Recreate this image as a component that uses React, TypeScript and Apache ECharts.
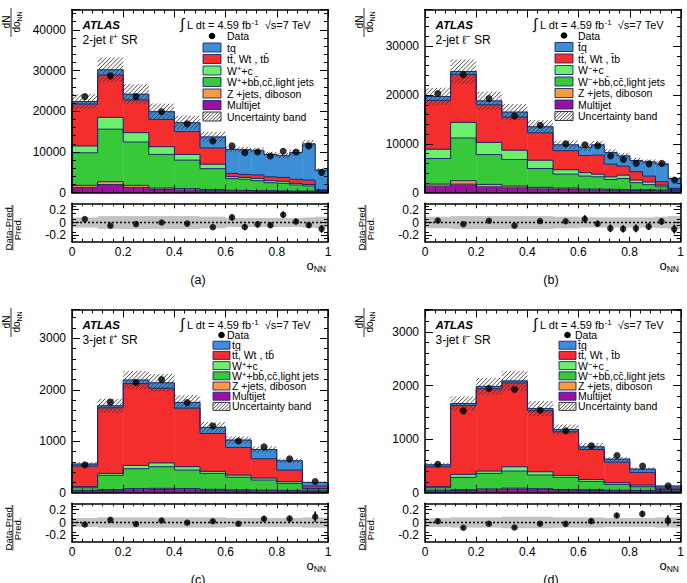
import React, { useEffect, useRef } from "react";
import * as echarts from "echarts";

// Bin edges of the neural-network output o_NN
const EDGES_2JET = [0, 0.1, 0.2, 0.3, 0.4, 0.5, 0.6, 0.65, 0.7, 0.75, 0.8, 0.85, 0.9, 0.95, 1];
const EDGES_3JET = [0, 0.1, 0.2, 0.3, 0.4, 0.5, 0.6, 0.7, 0.8, 0.9, 1];

// (a) 2-jet l+ SR: predicted yields per process
const A_MULTIJET = [1300, 2000, 1300, 800, 650, 500, 400, 400, 350, 350, 300, 300, 300, 250];
const A_ZJETS = [500, 700, 500, 350, 350, 250, 200, 150, 150, 150, 150, 100, 100, 50];
const A_WBB = [8000, 12900, 10650, 8250, 7000, 5150, 2850, 2750, 2450, 1950, 1850, 1500, 1250, 150];
const A_WC = [1700, 2900, 2300, 1900, 1400, 1100, 500, 450, 550, 500, 500, 400, 350, 100];
const A_TOP = [10300, 10400, 8050, 6700, 5600, 4000, 800, 750, 850, 950, 950, 1000, 1100, 150];
const A_TQ = [600, 1300, 1400, 1900, 2200, 2700, 5900, 6050, 5950, 5500, 5350, 6550, 8900, 4850];
const A_DATA = [23600, 28700, 23600, 19900, 16900, 12700, 11500, 9800, 10000, 9000, 10200, 10000, 11500, 5000];
const A_UNC = [0.08, 0.1, 0.1, 0.1, 0.1, 0.09, 0.07, 0.07, 0.07, 0.07, 0.07, 0.07, 0.08, 0.09];
const A_RATIO_ERR = [0.012, 0.012, 0.012, 0.012, 0.014, 0.016, 0.05, 0.05, 0.05, 0.045, 0.05, 0.045, 0.04, 0.06];

// (b) 2-jet l- SR
const B_MULTIJET = [1360, 1770, 1200, 1000, 800, 700, 550, 550, 500, 500, 450, 450, 400, 300];
const B_ZJETS = [410, 680, 500, 360, 300, 250, 200, 200, 200, 150, 150, 150, 150, 100];
const B_WBB = [5230, 8750, 6100, 5440, 3850, 2850, 2650, 2500, 2000, 2250, 1450, 1050, 650, 150];
const B_WC = [1900, 3200, 2500, 1900, 1700, 900, 700, 550, 550, 700, 550, 550, 350, 150];
const B_TOP = [10000, 9800, 7700, 6800, 5600, 3900, 3500, 3900, 2600, 1850, 1700, 1200, 700, 200];
const B_TQ = [800, 600, 800, 1000, 1250, 1200, 1700, 2100, 2400, 2100, 2300, 2900, 3650, 2000];
const B_DATA = [20300, 24150, 19300, 15700, 13800, 10000, 9800, 9600, 7500, 6800, 6000, 5900, 6000, 2600];
const B_UNC = [0.09, 0.1, 0.1, 0.1, 0.1, 0.09, 0.08, 0.08, 0.08, 0.08, 0.08, 0.08, 0.09, 0.1];
const B_RATIO_ERR = [0.012, 0.012, 0.012, 0.014, 0.016, 0.018, 0.06, 0.05, 0.06, 0.055, 0.06, 0.05, 0.05, 0.07];

// (c) 3-jet l+ SR
const C_MULTIJET = [35, 40, 55, 60, 55, 45, 40, 35, 30, 25];
const C_ZJETS = [10, 20, 25, 25, 25, 20, 15, 15, 15, 10];
const C_WBB = [52, 277, 386, 420, 360, 310, 245, 196, 136, 36];
const C_WC = [20, 38, 64, 75, 65, 40, 43, 39, 33, 13];
const C_TOP = [401, 1275, 1590, 1450, 1140, 735, 537, 375, 226, 46];
const C_TQ = [39, 40, 70, 105, 110, 120, 143, 180, 180, 70];
const C_DATA = [540, 1760, 2140, 2200, 1750, 1295, 1003, 890, 657, 218];
const C_UNC = [0.07, 0.08, 0.08, 0.08, 0.08, 0.08, 0.07, 0.07, 0.07, 0.08];
const C_RATIO_ERR = [0.03, 0.02, 0.02, 0.02, 0.02, 0.025, 0.03, 0.04, 0.05, 0.08];

// (d) 3-jet l- SR
const D_MULTIJET = [35, 40, 50, 65, 55, 45, 40, 35, 30, 20];
const D_ZJETS = [10, 15, 20, 20, 20, 15, 15, 10, 10, 10];
const D_WBB = [48, 231, 290, 319, 254, 226, 156, 110, 72, 20];
const D_WC = [19, 56, 44, 80, 62, 37, 37, 31, 31, 12];
const D_TOP = [372, 1285, 1536, 1566, 1139, 814, 559, 385, 236, 25];
const D_TQ = [38, 38, 45, 37, 40, 43, 50, 56, 62, 37];
const D_DATA = [532, 1528, 1945, 1925, 1540, 1155, 875, 696, 500, 128];
const D_UNC = [0.07, 0.08, 0.08, 0.09, 0.09, 0.08, 0.08, 0.07, 0.07, 0.08];
const D_RATIO_ERR = [0.04, 0.02, 0.02, 0.02, 0.02, 0.025, 0.03, 0.04, 0.05, 0.08];

// Tick labels
const X_TICKS = [0, 0.2, 0.4, 0.6, 0.8, 1];
const RATIO_TICKS = [-0.2, 0, 0.2];
const Y_TICKS_2JET_PLUS = [0, 10000, 20000, 30000, 40000];
const Y_TICKS_2JET_MINUS = [0, 10000, 20000, 30000];
const Y_TICKS_3JET = [0, 1000, 2000, 3000];

// Legend texts
const LEGEND_PLUS = ["tq", "tt\u0304, Wt , tb\u0304", "W{sup|+}+c", "W{sup|+}+bb\u0304,cc\u0304,light jets", "Z +jets, diboson", "Multijet", "Uncertainty band"];
const LEGEND_MINUS = ["t\u0304q", "tt\u0304, Wt , t\u0304b", "W{sup|\u2212}+c", "W{sup|\u2212}+bb\u0304,cc\u0304,light jets", "Z +jets, diboson", "Multijet", "Uncertainty band"];

const FONT = '"Liberation Sans", Arial, Helvetica, sans-serif';
// stack colours, bottom to top: multijet, Z+jets/diboson, W+bb/cc/light, W+c, top pairs, tq
const COLORS = ["#9b119f", "#f99b3c", "#37c937", "#6af06a", "#f42d2d", "#3d8fd5"];
const OUTLINE = "#1d2472";
const HATCH = "#3a3a3a";
const BAND = "#c2c2c2";

interface PanelSpec {
  edges: number[];
  stack: number[][];
  data: number[];
  unc: number[];
  ratioErr: number[];
  yMax: number;
  yStep: number;
  yTicks: number[];
  ox: number;
  oy: number;
  region: string;
  legendTexts: string[];
  tag: string;
  // legend geometry, x measured from the left edge of the frame
  lg: { boxL: number; boxW: number; boxH: number; textX: number; dataTextX: number; rowY: number; rowStep: number };
}

const PANELS: PanelSpec[] = [
  {
    edges: EDGES_2JET, stack: [A_MULTIJET, A_ZJETS, A_WBB, A_WC, A_TOP, A_TQ], data: A_DATA, unc: A_UNC, ratioErr: A_RATIO_ERR,
    yMax: 45000, yStep: 10000, yTicks: Y_TICKS_2JET_PLUS, ox: 0, oy: 0, region: "2-jet \u2113{sup|+} SR", legendTexts: LEGEND_PLUS, tag: "(a)",
    lg: { boxL: 131, boxW: 18, boxH: 9, textX: 155, dataTextX: 155, rowY: 36, rowStep: 11.5 },
  },
  {
    edges: EDGES_2JET, stack: [B_MULTIJET, B_ZJETS, B_WBB, B_WC, B_TOP, B_TQ], data: B_DATA, unc: B_UNC, ratioErr: B_RATIO_ERR,
    yMax: 37500, yStep: 10000, yTicks: Y_TICKS_2JET_MINUS, ox: 353, oy: 0, region: "2-jet \u2113{sup|\u2212} SR", legendTexts: LEGEND_MINUS, tag: "(b)",
    lg: { boxL: 130, boxW: 18, boxH: 9, textX: 153, dataTextX: 153, rowY: 35.5, rowStep: 11.5 },
  },
  {
    edges: EDGES_3JET, stack: [C_MULTIJET, C_ZJETS, C_WBB, C_WC, C_TOP, C_TQ], data: C_DATA, unc: C_UNC, ratioErr: C_RATIO_ERR,
    yMax: 3560, yStep: 1000, yTicks: Y_TICKS_3JET, ox: 0, oy: 300, region: "3-jet \u2113{sup|+} SR", legendTexts: LEGEND_PLUS, tag: "(c)",
    lg: { boxL: 141, boxW: 17, boxH: 8, textX: 160, dataTextX: 155, rowY: 35, rowStep: 10.2 },
  },
  {
    edges: EDGES_3JET, stack: [D_MULTIJET, D_ZJETS, D_WBB, D_WC, D_TOP, D_TQ], data: D_DATA, unc: D_UNC, ratioErr: D_RATIO_ERR,
    yMax: 3420, yStep: 1000, yTicks: Y_TICKS_3JET, ox: 353, oy: 300, region: "3-jet \u2113{sup|\u2212} SR", legendTexts: LEGEND_MINUS, tag: "(d)",
    lg: { boxL: 134, boxW: 17, boxH: 8, textX: 153, dataTextX: 150, rowY: 35, rowStep: 10.2 },
  },
];

// layout of one panel, relative to its origin
const FRAME_L = 72;
const FRAME_W = 256;
const MAIN_T = 9.5;
const MAIN_H = 183.2;
const RATIO_T = 203.3;
const RATIO_H = 38.4;
const GZ = 100;

function hatchLines(left: number, top: number, right: number, bottom: number, step: number, style: any) {
  const out: any[] = [];
  if (right <= left || bottom <= top) return out;
  const c0 = Math.ceil((left + top) / step) * step;
  for (let c = c0; c <= right + bottom; c += step) {
    const xa = Math.max(left, c - bottom);
    const xb = Math.min(right, c - top);
    if (xb - xa > 0.3) out.push({ type: "line", shape: { x1: xa, y1: c - xa, x2: xb, y2: c - xb }, style });
  }
  return out;
}

const axisLine = { show: true, onZero: false, lineStyle: { color: "#000", width: 1.5 } };
const labelStyle = { color: "#000", fontSize: 12, fontFamily: FONT };

function buildPanel(p: PanelSpec, pi: number) {
  const n = p.edges.length - 1;
  const cum: number[][] = [];
  for (let i = 0; i < n; i++) {
    let s = 0;
    const row = [0];
    for (let k = 0; k < 6; k++) {
      s += p.stack[k][i];
      row.push(s);
    }
    cum.push(row);
  }
  const total = cum.map((r) => r[6]);
  const centers = p.edges.slice(0, n).map((e, i) => (e + p.edges[i + 1]) / 2);
  const ratio = p.data.map((d, i) => d / total[i] - 1);

  const gMain = 2 * pi;
  const gRatio = 2 * pi + 1;
  const xb = 4 * pi;
  const xr = 4 * pi + 2;
  const yl = 4 * pi;
  const yr = 4 * pi + 2;

  const grids = [
    { left: p.ox + FRAME_L, top: p.oy + MAIN_T, width: FRAME_W, height: MAIN_H },
    { left: p.ox + FRAME_L, top: p.oy + RATIO_T, width: FRAME_W, height: RATIO_H },
  ];

  const xBase = (grid: number, position: string, labels: boolean, major: number, minor: number) => ({
    type: "value", gridIndex: grid, position, min: 0, max: 1, interval: 0.2, z: 10,
    axisLine, splitLine: { show: false },
    axisTick: { show: true, inside: true, length: major, lineStyle: { color: "#000", width: 1 } },
    minorTick: { show: true, splitNumber: 5, length: minor, lineStyle: { color: "#000", width: 1 } },
    axisLabel: labels
      ? { show: true, ...labelStyle, margin: 4, customValues: X_TICKS, formatter: (v: number) => String(Math.round(v * 10) / 10) }
      : { show: false },
  });
  const xAxes = [
    xBase(gMain, "bottom", false, 8, 4),
    xBase(gMain, "top", false, 8, 4),
    xBase(gRatio, "bottom", true, 5, 3),
    xBase(gRatio, "top", false, 5, 3),
  ];

  const yMain = (position: string, labels: boolean) => ({
    type: "value", gridIndex: gMain, position, min: 0, max: p.yMax, interval: p.yStep, z: 10,
    axisLine, splitLine: { show: false },
    axisTick: { show: true, inside: true, length: 8, lineStyle: { color: "#000", width: 1 } },
    minorTick: { show: true, splitNumber: 5, length: 4, lineStyle: { color: "#000", width: 1 } },
    axisLabel: labels
      ? { show: true, ...labelStyle, margin: 6, customValues: p.yTicks, formatter: (v: number) => String(v) }
      : { show: false },
  });
  const yRatio = (position: string, labels: boolean) => ({
    type: "value", gridIndex: gRatio, position, min: -0.3, max: 0.3, interval: 0.1, z: 10,
    axisLine, splitLine: { show: false },
    axisTick: { show: true, inside: true, length: 7, customValues: RATIO_TICKS, lineStyle: { color: "#000", width: 1 } },
    minorTick: { show: true, splitNumber: 2, length: 4, lineStyle: { color: "#000", width: 1 } },
    axisLabel: labels
      ? { show: true, ...labelStyle, margin: 6, customValues: RATIO_TICKS, formatter: (v: number) => (Math.abs(v) < 1e-9 ? "0" : String(Math.round(v * 10) / 10)) }
      : { show: false },
  });
  const yAxes = [yMain("left", true), yMain("right", false), yRatio("left", true), yRatio("right", false)];

  const series: any[] = [];

  // stacked process fills
  series.push({
    type: "custom", xAxisIndex: xb, yAxisIndex: yl, z: 2, silent: true, clip: false,
    data: cum.map((r, i) => [p.edges[i], p.edges[i + 1], ...r]),
    renderItem: (_params: any, api: any) => {
      const x0 = api.value(0);
      const x1 = api.value(1);
      const children: any[] = [];
      for (let k = 0; k < 6; k++) {
        const a = api.coord([x0, api.value(3 + k)]);
        const b = api.coord([x1, api.value(2 + k)]);
        children.push({ type: "rect", shape: { x: a[0], y: a[1] - 0.3, width: b[0] - a[0] + 0.4, height: b[1] - a[1] + 0.6 }, style: { fill: COLORS[k] } });
      }
      return { type: "group", children };
    },
  });

  // step outlines of each stacked histogram
  series.push({
    type: "custom", xAxisIndex: xb, yAxisIndex: yl, z: 3, silent: true, clip: false,
    data: cum.map((r, i) => [p.edges[i], p.edges[i + 1], ...r.slice(1), ...(i > 0 ? cum[i - 1].slice(1) : [0, 0, 0, 0, 0, 0])]),
    renderItem: (_params: any, api: any) => {
      const x0 = api.value(0);
      const x1 = api.value(1);
      const children: any[] = [];
      for (let k = 0; k < 6; k++) {
        const top = api.value(2 + k);
        const prev = api.value(8 + k);
        const a = api.coord([x0, prev]);
        const b = api.coord([x0, top]);
        const c = api.coord([x1, top]);
        children.push({ type: "polyline", shape: { points: [a, b, c] }, style: { stroke: OUTLINE, lineWidth: 1, fill: "none" } });
      }
      return { type: "group", children };
    },
  });

  // hatched uncertainty band on the total prediction
  series.push({
    type: "custom", xAxisIndex: xb, yAxisIndex: yl, z: 4, silent: true, clip: false,
    data: total.map((t, i) => [p.edges[i], p.edges[i + 1], t * (1 - p.unc[i]), t * (1 + p.unc[i])]),
    renderItem: (params: any, api: any) => {
      const cs = params.coordSys;
      const a = api.coord([api.value(0), api.value(3)]);
      const b = api.coord([api.value(1), api.value(2)]);
      const top = Math.max(a[1], cs.y);
      const bottom = Math.min(b[1], cs.y + cs.height);
      return { type: "group", children: hatchLines(a[0], top, b[0], bottom, 4.2, { stroke: HATCH, lineWidth: 0.9 }) };
    },
  });

  // data points
  series.push({
    type: "scatter", xAxisIndex: xb, yAxisIndex: yl, z: 6, silent: true, symbol: "circle", symbolSize: 7,
    itemStyle: { color: "#000" },
    data: centers.map((c, i) => [c, p.data[i]]),
  });

  // ratio panel: grey uncertainty band
  series.push({
    type: "custom", xAxisIndex: xr, yAxisIndex: yr, z: 2, silent: true,
    data: p.unc.map((u, i) => [p.edges[i], p.edges[i + 1], -u, u]),
    renderItem: (_params: any, api: any) => {
      const a = api.coord([api.value(0), api.value(3)]);
      const b = api.coord([api.value(1), api.value(2)]);
      return { type: "rect", shape: { x: a[0], y: a[1], width: b[0] - a[0] + 0.4, height: b[1] - a[1] }, style: { fill: BAND } };
    },
  });
  series.push({
    type: "line", xAxisIndex: xr, yAxisIndex: yr, z: 3, silent: true, symbol: "none",
    lineStyle: { color: "#000", width: 1.5, type: [2, 2] },
    data: [[0, 0], [1, 0]],
  });
  series.push({
    type: "custom", xAxisIndex: xr, yAxisIndex: yr, z: 4, silent: true,
    data: ratio.map((r, i) => [centers[i], r - p.ratioErr[i], r + p.ratioErr[i]]),
    renderItem: (_params: any, api: any) => {
      const a = api.coord([api.value(0), api.value(1)]);
      const b = api.coord([api.value(0), api.value(2)]);
      return { type: "line", shape: { x1: a[0], y1: a[1], x2: b[0], y2: b[1] }, style: { stroke: "#000", lineWidth: 1.6 } };
    },
  });
  series.push({
    type: "scatter", xAxisIndex: xr, yAxisIndex: yr, z: 5, silent: true, symbol: "circle", symbolSize: 6.5,
    itemStyle: { color: "#000" },
    data: centers.map((c, i) => [c, ratio[i]]),
  });

  // texts, legend and axis titles
  const ox = p.ox;
  const oy = p.oy;
  const fx = ox + FRAME_L;
  const g: any[] = [];
  const txt = (x: number, y: number, text: string, extra: any = {}, rotation = 0) => ({
    type: "text", x, y, rotation, silent: true, z: GZ,
    style: { text, fill: "#000", fontFamily: FONT, fontSize: 11, align: "left", verticalAlign: "middle", ...extra },
  });
  const supRich = { sup: { fontSize: 8, verticalAlign: "top", lineHeight: 12, fontFamily: FONT, fill: "#000" } };
  const subRich = (fs: number, lh: number) => ({ sub: { fontSize: fs, verticalAlign: "bottom", lineHeight: lh, fontFamily: FONT, fill: "#000" } });

  g.push(txt(ox + 82.5, oy + 25, "ATLAS", { fontWeight: "bold", fontStyle: "italic", fontSize: 11.5 }));
  g.push(txt(ox + 82.5, oy + 39.5, p.region, { fontSize: 12, lineHeight: 14, rich: supRich }));
  g.push(txt(ox + 180, oy + 23.5, "\u222B", { fontSize: 15 }));
  g.push(txt(ox + 187, oy + 24.5, "L dt = 4.59 fb{sup|-1}  \u221As=7 TeV", { fontSize: 11, lineHeight: 13, rich: supRich }));

  const lg = p.lg;
  const lh = Math.min(12, lg.rowStep);
  // Data entry
  g.push({ type: "circle", silent: true, z: GZ, shape: { cx: fx + lg.boxL + lg.boxW / 2, cy: oy + lg.rowY, r: 3.3 }, style: { fill: "#000" } });
  g.push(txt(fx + lg.dataTextX, oy + lg.rowY, "Data", { fontSize: 10.5, lineHeight: lh }));
  const fillOrder = [5, 4, 3, 2, 1, 0];
  for (let j = 0; j < 7; j++) {
    const yc = oy + lg.rowY + lg.rowStep * (j + 1);
    const bx = fx + lg.boxL;
    const by = yc - lg.boxH / 2;
    if (j < 6) {
      g.push({ type: "rect", silent: true, z: GZ, shape: { x: bx, y: by, width: lg.boxW, height: lg.boxH }, style: { fill: COLORS[fillOrder[j]], stroke: OUTLINE, lineWidth: 0.9 } });
    } else {
      g.push({ type: "rect", silent: true, z: GZ, shape: { x: bx, y: by, width: lg.boxW, height: lg.boxH }, style: { fill: "#fff", stroke: "#222", lineWidth: 0.9 } });
      for (const l of hatchLines(bx, by, bx + lg.boxW, by + lg.boxH, 3.4, { stroke: HATCH, lineWidth: 0.9 })) g.push({ ...l, silent: true, z: GZ + 1 });
    }
    g.push(txt(fx + lg.textX, yc, p.legendTexts[j], { fontSize: 10.5, lineHeight: lh, rich: { sup: { fontSize: 7.5, verticalAlign: "top", lineHeight: lh, fontFamily: FONT, fill: "#000" } } }));
  }

  // y-axis title dN/do_NN
  g.push(txt(ox + 6.5, oy + 22, "dN", { fontSize: 10, align: "center" }, Math.PI / 2));
  g.push({ type: "line", silent: true, z: GZ, shape: { x1: ox + 11, y1: oy + 8, x2: ox + 11, y2: oy + 37 }, style: { stroke: "#000", lineWidth: 0.8 } });
  g.push(txt(ox + 16.5, oy + 22, "do{sub|NN}", { fontSize: 10, align: "center", lineHeight: 12, rich: subRich(7, 12) }, Math.PI / 2));

  // ratio title (Data-Pred.)/Pred.
  g.push(txt(ox + 8.2, oy + 227.5, "Data-Pred.", { fontSize: 9.5, align: "center" }, Math.PI / 2));
  g.push({ type: "line", silent: true, z: GZ, shape: { x1: ox + 12.8, y1: oy + 205, x2: ox + 12.8, y2: oy + 250.5 }, style: { stroke: "#000", lineWidth: 0.8 } });
  g.push(txt(ox + 17.3, oy + 229, "Pred.", { fontSize: 9.5, align: "center" }, Math.PI / 2));

  // x-axis title and panel tag
  g.push(txt(ox + 326, oy + 265.5, "o{sub|NN}", { fontSize: 13, align: "right", lineHeight: 15, rich: subRich(8.5, 15) }));
  g.push(txt(ox + 198, oy + 279.5, p.tag, { fontSize: 12.5, align: "center" }));

  return { grids, xAxes, yAxes, series, graphics: g };
}

export default function App() {
  const ref = useRef<HTMLDivElement | null>(null);

  useEffect(() => {
    if (!ref.current) return;
    const chart = echarts.init(ref.current, undefined, { renderer: "svg" });
    const grid: any[] = [];
    const xAxis: any[] = [];
    const yAxis: any[] = [];
    const series: any[] = [];
    const elements: any[] = [];
    PANELS.forEach((p, i) => {
      const b = buildPanel(p, i);
      grid.push(...b.grids);
      xAxis.push(...b.xAxes);
      yAxis.push(...b.yAxes);
      series.push(...b.series);
      elements.push(...b.graphics);
    });
    chart.setOption({
      animation: false,
      backgroundColor: "#fff",
      grid,
      xAxis,
      yAxis,
      series,
      graphic: { elements },
    });
    return () => chart.dispose();
  }, []);

  return (
    <div
      ref={ref}
      style={{ position: "absolute", left: 0, top: 0, width: 687, height: 583, background: "#fff" }}
    />
  );
}
